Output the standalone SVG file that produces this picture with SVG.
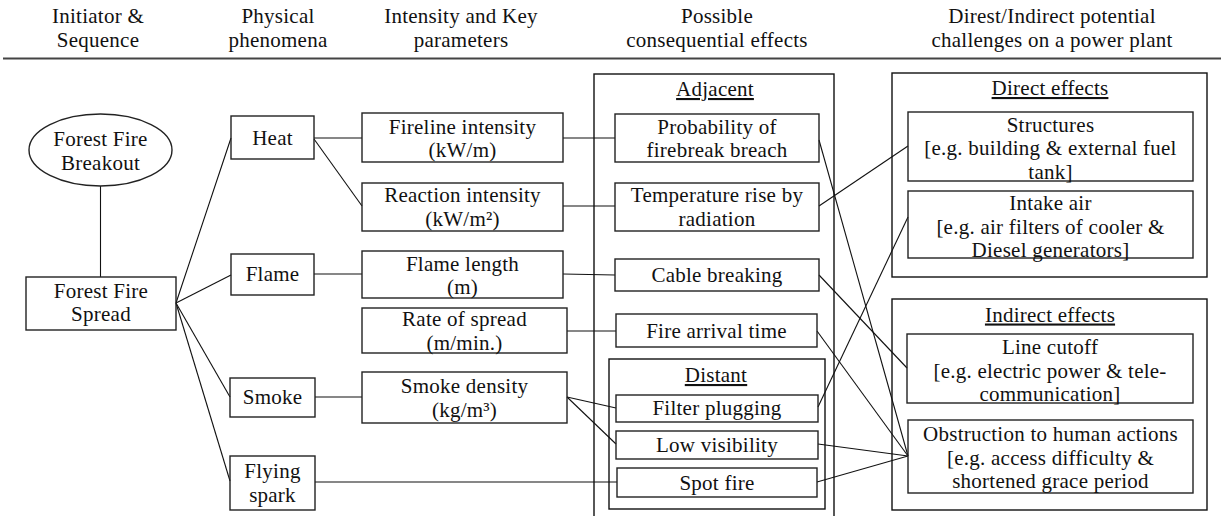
<svg xmlns="http://www.w3.org/2000/svg" width="1221" height="516" viewBox="0 0 1221 516" font-family="'Liberation Serif', 'Times New Roman', Times, serif">
<style>
text{font-family:'Liberation Serif','Times New Roman',Times,serif;font-size:21px;letter-spacing:0.25px;fill:#111;text-anchor:middle}
.box{fill:none;stroke:#222;stroke-width:1.4}
.grp{fill:none;stroke:#111;stroke-width:1.4}
.u{text-decoration:underline}
#connectors line{stroke:#111;stroke-width:1.1}
</style>
<rect width="1221" height="516" fill="#fff"/>
<g id="header">
<text x="98" y="23">Initiator &amp;</text><text x="98" y="46.5">Sequence</text>
<text x="278" y="23">Physical</text><text x="278" y="46.5">phenomena</text>
<text x="461" y="23">Intensity and Key</text><text x="461" y="46.5">parameters</text>
<text x="717" y="23">Possible</text><text x="717" y="46.5">consequential effects</text>
<text x="1052" y="23">Direst/Indirect potential</text><text x="1052" y="46.5">challenges on a power plant</text>
<line x1="3" y1="58.5" x2="1221" y2="58.5" stroke="#444" stroke-width="2.2"/>
</g>
<g id="connectors">
<line x1="100.5" y1="186" x2="100.5" y2="277"/>
<line x1="176" y1="303" x2="231" y2="138"/>
<line x1="176" y1="303" x2="231" y2="275"/>
<line x1="176" y1="303" x2="230" y2="397"/>
<line x1="176" y1="303" x2="230" y2="481"/>
<line x1="314" y1="138" x2="362" y2="138"/>
<line x1="314" y1="139" x2="362" y2="206"/>
<line x1="314" y1="274" x2="362" y2="274"/>
<line x1="315" y1="397" x2="362" y2="397"/>
<line x1="315" y1="482" x2="617" y2="482"/>
<line x1="563" y1="138" x2="615" y2="138"/>
<line x1="563" y1="206" x2="615" y2="206"/>
<line x1="563" y1="274" x2="615" y2="275"/>
<line x1="567" y1="331" x2="616" y2="331"/>
<line x1="567" y1="397" x2="616" y2="408"/>
<line x1="567" y1="397" x2="616" y2="444"/>
<line x1="819" y1="140" x2="908" y2="456"/>
<line x1="819" y1="206" x2="908" y2="146"/>
<line x1="819" y1="275" x2="907" y2="368"/>
<line x1="817" y1="331" x2="908" y2="456"/>
<line x1="818" y1="407" x2="908" y2="217"/>
<line x1="818" y1="444" x2="908" y2="456"/>
<line x1="817" y1="482" x2="908" y2="456"/>
</g>
<g id="breakout"><ellipse class="box" cx="100.5" cy="150" rx="71.5" ry="36"/><text x="100.5" y="146">Forest Fire</text><text x="100.5" y="169.5">Breakout</text></g>
<g id="spread"><rect class="box" x="26" y="277" width="150" height="53"/><text x="101" y="297.5">Forest Fire</text><text x="101" y="321">Spread</text></g>
<g id="heat"><rect class="box" x="231" y="116" width="83" height="43"/><text x="272.5" y="145">Heat</text></g>
<g id="flame"><rect class="box" x="231" y="254" width="83" height="41"/><text x="272.5" y="281">Flame</text></g>
<g id="smoke"><rect class="box" x="230" y="378" width="85" height="39"/><text x="272.5" y="404">Smoke</text></g>
<g id="flying"><rect class="box" x="230" y="456" width="85" height="54"/><text x="272.5" y="478">Flying</text><text x="272.5" y="501.5">spark</text></g>
<g id="fireline"><rect class="box" x="362" y="113" width="201" height="49"/><text x="462.5" y="133.5">Fireline intensity</text><text x="462.5" y="157">(kW/m)</text></g>
<g id="reaction"><rect class="box" x="362" y="183" width="201" height="48"/><text x="462.5" y="202">Reaction intensity</text><text x="462.5" y="225.5">(kW/m²)</text></g>
<g id="flamelength"><rect class="box" x="362" y="251" width="201" height="47"/><text x="462.5" y="270.5">Flame length</text><text x="462.5" y="294">(m)</text></g>
<g id="rate"><rect class="box" x="362" y="308" width="205" height="45"/><text x="464.5" y="326">Rate of spread</text><text x="464.5" y="349.5">(m/min.)</text></g>
<g id="smokedensity"><rect class="box" x="362" y="372" width="205" height="51"/><text x="464.5" y="393">Smoke density</text><text x="464.5" y="416.5">(kg/m³)</text></g>
<g id="adjacent"><rect class="grp" x="594" y="74" width="240" height="460"/><text class="u" x="715" y="96">Adjacent</text></g>
<g id="probability"><rect class="box" x="615" y="114" width="204" height="48"/><text x="717" y="133.5">Probability of</text><text x="717" y="157">firebreak breach</text></g>
<g id="temperature"><rect class="box" x="615" y="183" width="204" height="48"/><text x="717" y="202">Temperature rise by</text><text x="717" y="225.5">radiation</text></g>
<g id="cable"><rect class="box" x="615" y="259" width="204" height="32"/><text x="717" y="282">Cable breaking</text></g>
<g id="arrival"><rect class="box" x="616" y="314" width="201" height="33"/><text x="716.5" y="338">Fire arrival time</text></g>
<g id="distant"><rect class="grp" x="609" y="359" width="216" height="150"/><text class="u" x="716" y="382">Distant</text></g>
<g id="filter"><rect class="box" x="616" y="395" width="202" height="27"/><text x="717" y="415">Filter plugging</text></g>
<g id="lowvis"><rect class="box" x="616" y="431" width="202" height="28"/><text x="717" y="452">Low visibility</text></g>
<g id="spot"><rect class="box" x="617" y="468" width="200" height="29"/><text x="717" y="489.5">Spot fire</text></g>
<g id="direct"><rect class="grp" x="892" y="73" width="315" height="204"/><text class="u" x="1050" y="95">Direct effects</text></g>
<g id="structures"><rect class="box" x="908" y="112" width="285" height="69"/><text x="1050.5" y="131.5">Structures</text><text x="1050.5" y="155">[e.g. building &amp; external fuel</text><text x="1050.5" y="178.5">tank]</text></g>
<g id="intake"><rect class="box" x="908" y="191" width="285" height="67"/><text x="1050.5" y="210">Intake air</text><text x="1050.5" y="233.5">[e.g. air filters of cooler &amp;</text><text x="1050.5" y="257">Diesel generators]</text></g>
<g id="indirect"><rect class="grp" x="892" y="299" width="315" height="211"/><text class="u" x="1050" y="321.5">Indirect effects</text></g>
<g id="linecutoff"><rect class="box" x="907" y="334" width="286" height="69"/><text x="1050" y="354">Line cutoff</text><text x="1050" y="377.5">[e.g. electric power &amp; tele-</text><text x="1050" y="401">communication]</text></g>
<g id="obstruction"><rect class="box" x="908" y="420" width="285" height="73"/><text x="1050.5" y="441">Obstruction to human actions</text><text x="1050.5" y="464.5">[e.g. access difficulty &amp;</text><text x="1050.5" y="488">shortened grace period</text></g>
</svg>
